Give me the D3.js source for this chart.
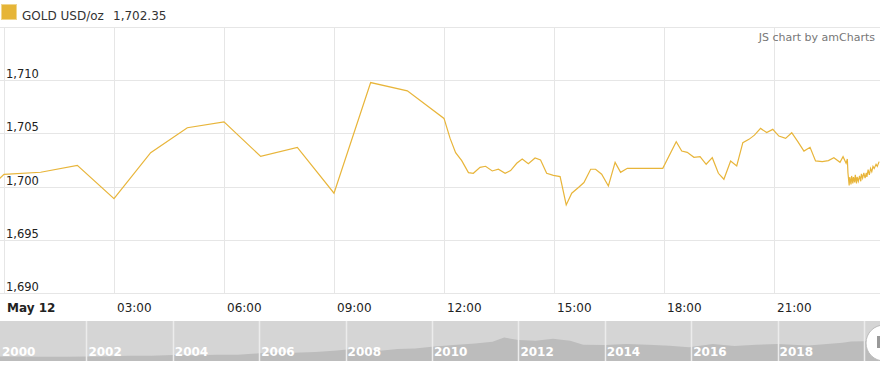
<!DOCTYPE html>
<html>
<head>
<meta charset="utf-8">
<script src="https://cdnjs.cloudflare.com/ajax/libs/d3/7.8.5/d3.min.js"></script>
<style>
  body { margin: 0; background: #fff; }
  svg { display: block; font-family: "DejaVu Sans", Verdana, sans-serif; }
  .grid line { stroke: #e6e6e6; stroke-width: 1; }
  .ylab { font-size: 11.5px; fill: #222; }
  .xlab { font-size: 12px; fill: #222; }
  .navlab { font-size: 12px; font-weight: bold; fill: #fff; }
</style>
</head>
<body>
<script>
// Define constants
const width = 880
const height = 369
const plot = {top: 27, bottom: 293, left: 4, right: 880}
const lineColor = "#e8b53a"

// intraday quotes, May 12 (first point from May 11)
const times = ["11 23:50", "12 00:00", "12 01:00", "12 02:00", "12 03:00", "12 04:00", "12 05:00",
  "12 06:00", "12 07:00", "12 08:00", "12 09:00", "12 10:00", "12 11:00", "12 12:00",
  "12 12:10", "12 12:19", "12 12:29", "12 12:40", "12 12:48", "12 12:59", "12 13:08", "12 13:19",
  "12 13:29", "12 13:40", "12 13:49", "12 13:59", "12 14:08", "12 14:18", "12 14:29", "12 14:38",
  "12 14:48", "12 14:59", "12 15:10", "12 15:20", "12 15:29", "12 15:40", "12 15:49", "12 16:00",
  "12 16:08", "12 16:18", "12 16:29", "12 16:40", "12 16:49", "12 17:00", "12 17:58", "12 18:20",
  "12 18:29", "12 18:38", "12 18:49", "12 18:59", "12 19:09", "12 19:19", "12 19:29", "12 19:38",
  "12 19:49", "12 19:59", "12 20:09", "12 20:19", "12 20:28", "12 20:38", "12 20:48", "12 20:58",
  "12 21:08", "12 21:19", "12 21:29", "12 21:39", "12 21:49", "12 21:59", "12 22:08", "12 22:19",
  "12 22:29", "12 22:38", "12 22:48", "12 22:53", "12 22:58", "12 23:00", "12 23:01", "12 23:03",
  "12 23:04", "12 23:06", "12 23:07", "12 23:09", "12 23:10", "12 23:12", "12 23:13", "12 23:15",
  "12 23:16", "12 23:18", "12 23:20", "12 23:22", "12 23:23", "12 23:25", "12 23:27", "12 23:29",
  "12 23:31", "12 23:32", "12 23:34", "12 23:36", "12 23:38", "12 23:40", "12 23:42", "12 23:44",
  "12 23:47", "12 23:49", "12 23:52"]
const prices = [1700.6, 1701.15, 1701.35, 1702.0, 1698.87, 1703.19, 1705.53,
  1706.09, 1702.84, 1703.69, 1699.38, 1709.78, 1709.0, 1706.41,
  1704.53, 1703.19, 1702.44, 1701.31, 1701.25, 1701.81, 1701.91, 1701.47,
  1701.63, 1701.25, 1701.5, 1702.19, 1702.59, 1702.16, 1702.69, 1702.5,
  1701.25, 1701.06, 1700.94, 1698.28, 1699.38, 1699.91, 1700.38, 1701.63,
  1701.63, 1701.16, 1700.06, 1702.28, 1701.34, 1701.72, 1701.72, 1704.22,
  1703.34, 1703.22, 1702.75, 1702.81, 1702.1, 1702.72, 1701.25, 1700.69,
  1702.41, 1701.94, 1704.13, 1704.44, 1704.84, 1705.47, 1705.09, 1705.38,
  1704.75, 1704.53, 1705.06, 1704.22, 1703.34, 1703.69, 1702.41, 1702.34,
  1702.44, 1702.72, 1702.28, 1702.81, 1702.19, 1702.6, 1701.3, 1700.1,
  1700.9, 1700.2, 1701.0, 1700.3, 1700.9, 1700.4, 1701.1, 1700.3,
  1700.9, 1700.5, 1701.0, 1700.5, 1701.2, 1700.8, 1701.3, 1700.8,
  1701.3, 1700.9, 1701.6, 1701.1, 1701.7, 1701.4, 1701.9, 1701.7,
  1702.1, 1701.9, 1702.35]
const yTicks = [1690, 1695, 1700, 1705, 1710]
const lastPrice = "1,702.35"

// long history for the scrollbar preview
const navYears = [2000.0, 2000.5, 2001.0, 2001.5, 2002.0, 2002.5, 2003.0, 2003.5, 2004.0, 2004.5,
  2005.0, 2005.5, 2006.0, 2006.4, 2006.8, 2007.3, 2007.8, 2008.2, 2008.5, 2008.8, 2009.2, 2009.6,
  2010.0, 2010.5, 2011.0, 2011.4, 2011.67, 2012.0, 2012.4, 2012.8, 2013.2, 2013.5, 2014.0, 2014.5,
  2015.0, 2015.5, 2015.95, 2016.5, 2017.0, 2017.5, 2018.0, 2018.7, 2019.0, 2019.5, 2019.7, 2020.0,
  2020.3, 2020.37]
const navPrices = [290, 285, 265, 270, 280, 315, 350, 350, 410, 395,
  425, 435, 550, 640, 600, 660, 780, 930, 900, 760, 900, 950,
  1100, 1230, 1360, 1500, 1850, 1650, 1600, 1750, 1600, 1250, 1240, 1320,
  1250, 1170, 1060, 1330, 1150, 1250, 1330, 1190, 1290, 1420, 1520, 1550,
  1700, 1705]
const navTicks = [2000, 2002, 2004, 2006, 2008, 2010, 2012, 2014, 2016, 2018]

const parseT = d3.timeParse("%Y-%m-%d %H:%M")
const data = times.map((t, i) => ({t: parseT("2020-05-" + t), v: prices[i]}))

const svg = d3.select("body").append("svg")
    .attr("width", width)
    .attr("height", height)

// scales
const x = d3.scaleTime()
    .domain([parseT("2020-05-12 00:00"), parseT("2020-05-13 00:00")])
    .range([plot.left, plot.left + 24 * 110 / 3])
const y = d3.scaleLinear()
    .domain([1690, 1715])
    .range([plot.bottom, plot.top])

svg.append("clipPath").attr("id", "clip")
  .append("rect")
    .attr("x", 0).attr("y", plot.top)
    .attr("width", plot.right).attr("height", plot.bottom - plot.top)

// grid
const grid = svg.append("g").attr("class", "grid")
grid.selectAll(".h").data(yTicks.concat([1715]))
  .enter().append("line")
    .attr("x1", 0).attr("x2", plot.right)
    .attr("y1", d => Math.round(y(d)) + 0.5).attr("y2", d => Math.round(y(d)) + 0.5)
const xTicks = x.ticks(d3.timeHour.every(3)).filter(d => x(d) <= plot.right)
grid.selectAll(".v").data(xTicks)
  .enter().append("line")
    .attr("x1", d => Math.round(x(d)) + 0.5).attr("x2", d => Math.round(x(d)) + 0.5)
    .attr("y1", plot.top).attr("y2", plot.bottom)

// y labels
svg.selectAll(".ylab").data(yTicks)
  .enter().append("text")
    .attr("class", "ylab")
    .attr("x", 6)
    .attr("y", d => y(d) - 2)
    .text(d => d3.format(",")(d))

// x labels
const fmtH = d3.timeFormat("%H:%M")
svg.selectAll(".xlab").data(xTicks)
  .enter().append("text")
    .attr("class", "xlab")
    .attr("x", d => x(d) + 3)
    .attr("y", 312)
    .style("font-weight", d => d.getHours() === 0 ? "bold" : "normal")
    .text(d => d.getHours() === 0 ? "May 12" : fmtH(d))

// price line
svg.append("path")
    .datum(data)
    .attr("clip-path", "url(#clip)")
    .attr("fill", "none")
    .attr("stroke", lineColor)
    .attr("stroke-width", 1.2)
    .attr("d", d3.line().x(d => x(d.t)).y(d => y(d.v)))

// legend
svg.append("rect")
    .attr("x", 1.5).attr("y", 4.5).attr("width", 15).attr("height", 15)
    .attr("fill", "#e6b537").attr("stroke", "#f0d68e")
svg.append("text")
    .attr("x", 22).attr("y", 19.5)
    .attr("font-size", 12).attr("fill", "#333")
    .text("GOLD USD/oz")
svg.append("text")
    .attr("x", 113).attr("y", 19.5)
    .attr("font-size", 12).attr("fill", "#333")
    .text(lastPrice)

svg.append("text")
    .attr("x", 875).attr("y", 41)
    .attr("text-anchor", "end")
    .attr("font-size", 11).attr("fill", "#777")
    .text("JS chart by amCharts")

// navigator
const nav = {top: 321, bottom: 361}
const nx = d3.scaleLinear().domain([2000, 2000 + 880 / 43.2]).range([0, width])
const ny = d3.scaleLinear().domain([0, 1900]).range([360, 337])
svg.append("rect")
    .attr("x", 0).attr("y", nav.top)
    .attr("width", width).attr("height", nav.bottom - nav.top)
    .attr("fill", "#d5d5d5")
svg.append("path")
    .datum(navYears.map((yr, i) => ({yr: yr, v: navPrices[i]})))
    .attr("fill", "#bcbcbc")
    .attr("d", d3.area().x(d => nx(d.yr)).y0(nav.bottom).y1(d => ny(d.v)))
svg.selectAll(".navsep").data(navTicks.slice(1).concat([2020]))
  .enter().append("line")
    .attr("x1", d => Math.round(nx(d)) + 0.5).attr("x2", d => Math.round(nx(d)) + 0.5)
    .attr("y1", nav.top).attr("y2", nav.bottom)
    .attr("stroke", "#ececec").attr("stroke-width", 1.5)
svg.selectAll(".navlab").data(navTicks)
  .enter().append("text")
    .attr("class", "navlab")
    .attr("x", d => nx(d) + 2)
    .attr("y", 356)
    .text(d => d)

// scrollbar grip
svg.append("circle")
    .attr("cx", 884).attr("cy", 343).attr("r", 18)
    .attr("fill", "#fff").attr("stroke", "#bbb")
svg.append("rect")
    .attr("x", 877).attr("y", 336).attr("width", 4).attr("height", 12)
    .attr("fill", "#999")
</script>
</body>
</html>
